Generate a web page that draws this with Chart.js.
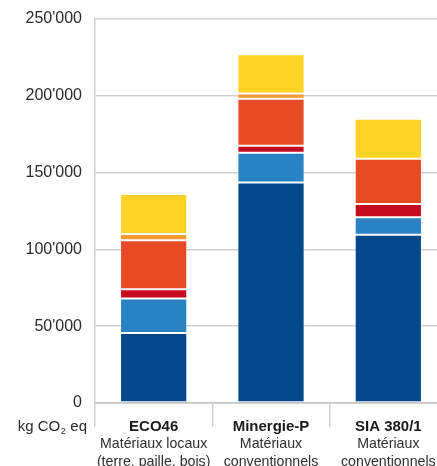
<!DOCTYPE html>
<html>
<head>
<meta charset="utf-8">
<script src="https://cdn.jsdelivr.net/npm/chart.js@4"></script>
<style>
  html, body { margin: 0; padding: 0; background: #fff; overflow: hidden; }
  #wrap { width: 447px; height: 466px; position: relative; }
</style>
</head>
<body>
<div id="wrap"><canvas id="c"></canvas></div>
<script>
// ---- data ----
const categories = ['ECO46', 'Minergie-P', 'SIA 380/1'];
const subtitles = [
  ['Matériaux locaux', '(terre, paille, bois)'],
  ['Matériaux', 'conventionnels'],
  ['Matériaux', 'conventionnels']
];
const seriesNames = ['Série 1', 'Série 2', 'Série 3', 'Série 4', 'Série 5', 'Série 6'];
const series1 = [45500, 143500, 109500];
const series2 = [22500, 19500, 11500];
const series3 = [6000, 4500, 8500];
const series4 = [32000, 30500, 29500];
const series5 = [4000, 3500, 0];
const series6 = [26000, 25500, 26000];
const yTicks = [0, 50000, 100000, 150000, 200000, 250000];
const unitLabel = ['kg CO', '2', ' eq'];

const colors = ['#00488A', '#2882C3', '#C60B1F', '#E64B26', '#F29A2E', '#FED325'];
const allSeries = [series1, series2, series3, series4, series5, series6];

function fmt(v) {
  return String(v).replace(/\B(?=(\d{3})+(?!\d))/g, "'");
}

const unitPlugin = {
  id: 'unit',
  afterDraw(chart) {
    const ctx = chart.ctx;
    const xs = chart.scales.x;
    const right = chart.scales.y.right - 8;
    const base = xs.top + 28;
    ctx.save();
    ctx.fillStyle = '#2a2a2a';
    ctx.textBaseline = 'alphabetic';
    ctx.textAlign = 'left';
    const big = '15px "Liberation Sans", Arial, sans-serif';
    const small = '9px "Liberation Sans", Arial, sans-serif';
    ctx.font = big; const w1 = ctx.measureText(unitLabel[0]).width;
    const w3 = ctx.measureText(unitLabel[2]).width;
    ctx.font = small; const w2 = ctx.measureText(unitLabel[1]).width;
    let x = right - (w1 + w2 + w3 + 1);
    ctx.font = big; ctx.fillText(unitLabel[0], x, base); x += w1;
    ctx.font = small; ctx.fillText(unitLabel[1], x + 0.5, base + 3); x += w2 + 1;
    ctx.font = big; ctx.fillText(unitLabel[2], x, base);
    ctx.restore();
  }
};

new Chart(document.getElementById('c'), {
  type: 'bar',
  data: {
    labels: categories,
    datasets: allSeries.map((d, i) => ({
      label: seriesNames[i],
      data: d,
      backgroundColor: colors[i],
      borderColor: 'rgba(255,255,255,0.25)',
      borderWidth: 1,
      borderSkipped: false,
      barPercentage: 0.573,
      categoryPercentage: 1.0
    }))
  },
  options: {
    responsive: true,
    maintainAspectRatio: false,
    devicePixelRatio: 1,
    animation: false,
    layout: { padding: { top: 19, left: 0, right: 0, bottom: 0 } },
    plugins: { legend: { display: false }, tooltip: { enabled: false } },
    scales: {
      x: {
        stacked: true,
        offset: true,
        grid: {
          display: true,
          drawOnChartArea: false,
          drawTicks: true,
          tickLength: 24,
          offset: true,
          color: '#cfcfcf',
          lineWidth: 1.5
        },
        border: { display: true, color: '#c4c4c4', width: 1.5 },
        ticks: {
          padding: -9.5,
          color: '#1a1a1a',
          font: { family: '"Liberation Sans", Arial, sans-serif', size: 15, weight: 'bold', lineHeight: 1.2 },
          maxRotation: 0,
          autoSkip: false
        },
        afterFit(scale) { scale.height = 31; }
      },
      x2: {
        type: 'category',
        position: 'bottom',
        labels: subtitles,
        offset: true,
        grid: { display: false, drawTicks: false },
        border: { display: false },
        ticks: {
          padding: 1.5,
          color: '#2e2e2e',
          font: { family: '"Liberation Sans", Arial, sans-serif', size: 14.2, lineHeight: 1.27 },
          maxRotation: 0,
          autoSkip: false
        },
        afterFit(scale) { scale.height = 32; }
      },
      y: {
        stacked: true,
        min: 0,
        max: 250000,
        afterBuildTicks(scale) { scale.ticks = yTicks.map(v => ({ value: v })); },
        grid: { color: '#cfcfcf', lineWidth: 1.5, drawTicks: false },
        border: { display: true, color: '#cfcfcf', width: 1.5 },
        ticks: {
          padding: 13,
          color: '#2a2a2a',
          font: { family: '"Liberation Sans", Arial, sans-serif', size: 16 },
          callback: v => fmt(v)
        },
        afterFit(scale) {
          scale.width = 95;
          scale.paddingTop = 0;
          scale.paddingBottom = 0;
        }
      }
    }
  },
  plugins: [unitPlugin]
});
</script>
</body>
</html>
